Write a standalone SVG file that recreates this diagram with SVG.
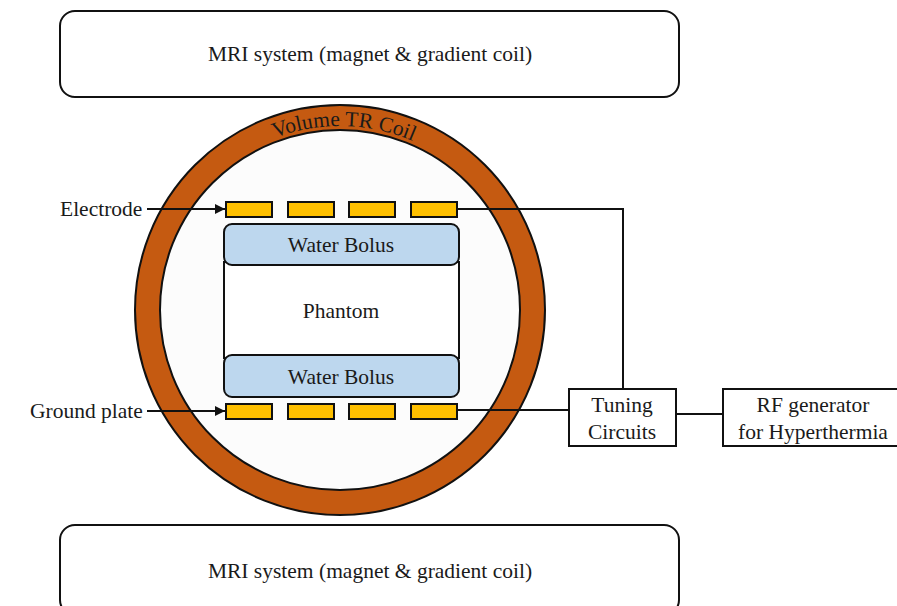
<svg xmlns="http://www.w3.org/2000/svg" width="897" height="606" viewBox="0 0 897 606">
<style>
text{font-family:"Liberation Serif","Times New Roman",serif;font-size:21.5px;fill:#1a1a1a;}
.c{text-anchor:middle;}
.box{fill:#fff;stroke:#111;stroke-width:2;}
.el{fill:#ffc000;stroke:#111;stroke-width:2;}
.bolus{fill:#bdd7ee;stroke:#111;stroke-width:2;}
.wire{fill:none;stroke:#111;stroke-width:2;}
</style>
<defs>
<marker id="ah" viewBox="0 0 10 10" refX="10" refY="5" markerWidth="5" markerHeight="5" orient="auto" markerUnits="strokeWidth">
<path d="M0,0 L10,5 L0,10 z" fill="#111"/>
</marker>
<path id="arc" d="M156,310 A184,184 0 0 1 524,310"/>
</defs>
<rect width="897" height="606" fill="#fff"/>
<g id="mri-top"><rect class="box" x="60" y="11" width="619" height="86" rx="15"/><text class="c" x="370" y="61">MRI system (magnet &amp; gradient coil)</text></g>
<g id="mri-bottom"><rect class="box" x="60" y="525" width="619" height="90" rx="15"/><text class="c" x="370" y="578">MRI system (magnet &amp; gradient coil)</text></g>
<g id="coil">
<circle cx="340" cy="310" r="205" fill="#c55a11" stroke="#111" stroke-width="2"/>
<circle cx="340" cy="310" r="180" fill="#fcfcfc" stroke="#111" stroke-width="2"/>
<text><textPath href="#arc" startOffset="293" text-anchor="middle">Volume  TR Coil</textPath></text>
</g>
<g id="phantom"><rect class="box" x="224" y="262" width="235" height="96"/><text class="c" x="341" y="318">Phantom</text></g>
<g id="bolus-top"><rect class="bolus" x="224" y="224" width="235" height="41" rx="8"/><text class="c" x="341" y="252">Water Bolus</text></g>
<g id="bolus-bottom"><rect class="bolus" x="224" y="355" width="235" height="42" rx="8"/><text class="c" x="341" y="384">Water Bolus</text></g>
<g id="electrode">
<rect class="el" x="226" y="202" width="46" height="15"/>
<rect class="el" x="288" y="202" width="46" height="15"/>
<rect class="el" x="349" y="202" width="46" height="15"/>
<rect class="el" x="411" y="202" width="46" height="15"/>
<text x="60" y="216">Electrode</text>
</g>
<g id="ground-plate">
<rect class="el" x="226" y="404" width="46" height="15"/>
<rect class="el" x="288" y="404" width="46" height="15"/>
<rect class="el" x="349" y="404" width="46" height="15"/>
<rect class="el" x="411" y="404" width="46" height="15"/>
<text x="30" y="418">Ground plate</text>
</g>
<g id="tuning"><rect class="box" x="569" y="389" width="107" height="57"/><text class="c" x="622" y="412">Tuning</text><text class="c" x="622" y="439">Circuits</text></g>
<g id="rf"><rect class="box" x="723" y="389" width="176" height="57"/><text class="c" x="813" y="412">RF generator</text><text class="c" x="813" y="439">for Hyperthermia</text></g>
<g id="connectors">
<line class="wire" x1="147" y1="209" x2="225" y2="209" marker-end="url(#ah)"/>
<line class="wire" x1="147" y1="411" x2="225" y2="411" marker-end="url(#ah)"/>
<polyline class="wire" points="457,209 623,209 623,389"/>
<line class="wire" x1="457" y1="410" x2="569" y2="410"/>
<line class="wire" x1="676" y1="414" x2="723" y2="414"/>
</g>
</svg>
